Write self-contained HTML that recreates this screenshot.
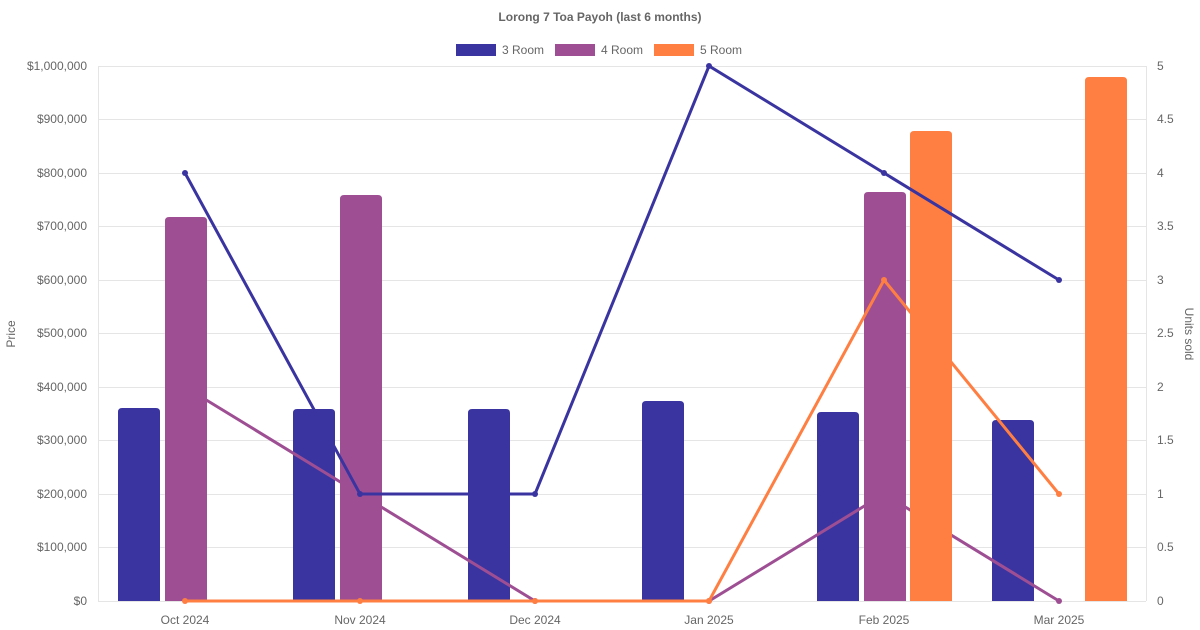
<!DOCTYPE html>
<html><head><meta charset="utf-8"><style>
html,body{margin:0;padding:0;background:#fff;}
svg{display:block;font-family:"Liberation Sans",Arial,sans-serif;}
</style></head><body>
<svg width="1200" height="630" viewBox="0 0 1200 630" xmlns="http://www.w3.org/2000/svg">
<text x="600" y="21" text-anchor="middle" font-size="12" font-weight="bold" fill="#666">Lorong 7 Toa Payoh (last 6 months)</text>
<rect x="456" y="44" width="40" height="12" fill="#3a34a0"/>
<text x="502" y="54" font-size="12" fill="#666">3 Room</text>
<rect x="555" y="44" width="40" height="12" fill="#9e4f94"/>
<text x="601" y="54" font-size="12" fill="#666">4 Room</text>
<rect x="654" y="44" width="40" height="12" fill="#ff7f42"/>
<text x="700" y="54" font-size="12" fill="#666">5 Room</text>
<g stroke="#e5e5e5" stroke-width="1">
<line x1="98" y1="66.5" x2="1146" y2="66.5"/>
<line x1="98" y1="119.5" x2="1146" y2="119.5"/>
<line x1="98" y1="173.5" x2="1146" y2="173.5"/>
<line x1="98" y1="226.5" x2="1146" y2="226.5"/>
<line x1="98" y1="280.5" x2="1146" y2="280.5"/>
<line x1="98" y1="333.5" x2="1146" y2="333.5"/>
<line x1="98" y1="387.5" x2="1146" y2="387.5"/>
<line x1="98" y1="440.5" x2="1146" y2="440.5"/>
<line x1="98" y1="494.5" x2="1146" y2="494.5"/>
<line x1="98" y1="547.5" x2="1146" y2="547.5"/>
<line x1="98" y1="601.5" x2="1146" y2="601.5"/>
<line x1="98.5" y1="66" x2="98.5" y2="601"/>
<line x1="1146.5" y1="66" x2="1146.5" y2="601"/>
</g>
<g font-size="12" fill="#666" text-anchor="end">
<text x="87" y="70">$1,000,000</text>
<text x="87" y="123">$900,000</text>
<text x="87" y="177">$800,000</text>
<text x="87" y="230">$700,000</text>
<text x="87" y="284">$600,000</text>
<text x="87" y="337">$500,000</text>
<text x="87" y="391">$400,000</text>
<text x="87" y="444">$300,000</text>
<text x="87" y="498">$200,000</text>
<text x="87" y="551">$100,000</text>
<text x="87" y="605">$0</text>
</g>
<g font-size="12" fill="#666" text-anchor="start">
<text x="1157" y="70">5</text>
<text x="1157" y="123">4.5</text>
<text x="1157" y="177">4</text>
<text x="1157" y="230">3.5</text>
<text x="1157" y="284">3</text>
<text x="1157" y="337">2.5</text>
<text x="1157" y="391">2</text>
<text x="1157" y="444">1.5</text>
<text x="1157" y="498">1</text>
<text x="1157" y="551">0.5</text>
<text x="1157" y="605">0</text>
</g>
<g font-size="12" fill="#666" text-anchor="middle">
<text x="185" y="624">Oct 2024</text>
<text x="360" y="624">Nov 2024</text>
<text x="535" y="624">Dec 2024</text>
<text x="709" y="624">Jan 2025</text>
<text x="884" y="624">Feb 2025</text>
<text x="1059" y="624">Mar 2025</text>
</g>
<text transform="translate(15,334) rotate(-90)" font-size="12" fill="#666" text-anchor="middle">Price</text>
<text transform="translate(1185,334) rotate(90)" font-size="12" fill="#666" text-anchor="middle">Units sold</text>
<!-- 3 room bars -->
<g fill="#3a34a0">
<path d="M118,601 V412 q0,-4 4,-4 h34 q4,0 4,4 V601Z"/>
<path d="M293,601 V413 q0,-4 4,-4 h34 q4,0 4,4 V601Z"/>
<path d="M468,601 V413 q0,-4 4,-4 h34 q4,0 4,4 V601Z"/>
<path d="M642,601 V405 q0,-4 4,-4 h34 q4,0 4,4 V601Z"/>
<path d="M817,601 V416 q0,-4 4,-4 h34 q4,0 4,4 V601Z"/>
<path d="M992,601 V424 q0,-4 4,-4 h34 q4,0 4,4 V601Z"/>
</g>
<!-- 4 room line -->
<polyline points="185,387 360,494 535,601 709,601 884,494 1059,601" fill="none" stroke="#9e4f94" stroke-width="3"/>
<g fill="#9e4f94"><circle cx="185" cy="387" r="3"/><circle cx="360" cy="494" r="3"/><circle cx="535" cy="601" r="3"/><circle cx="709" cy="601" r="3"/><circle cx="884" cy="494" r="3"/><circle cx="1059" cy="601" r="3"/></g>
<!-- 4 room bars -->
<g fill="#9e4f94">
<path d="M165,601 V221 q0,-4 4,-4 h34 q4,0 4,4 V601Z"/>
<path d="M340,601 V199 q0,-4 4,-4 h34 q4,0 4,4 V601Z"/>
<path d="M864,601 V196 q0,-4 4,-4 h34 q4,0 4,4 V601Z"/>
</g>
<!-- 5 room line -->
<polyline points="185,601 360,601 535,601 709,601 884,280 1059,494" fill="none" stroke="#ff7f42" stroke-width="3"/>
<g fill="#ff7f42"><circle cx="185" cy="601" r="3"/><circle cx="360" cy="601" r="3"/><circle cx="535" cy="601" r="3"/><circle cx="709" cy="601" r="3"/><circle cx="884" cy="280" r="3"/><circle cx="1059" cy="494" r="3"/></g>
<!-- 5 room bars -->
<g fill="#ff7f42">
<path d="M910,601 V135 q0,-4 4,-4 h34 q4,0 4,4 V601Z"/>
<path d="M1085,601 V81 q0,-4 4,-4 h34 q4,0 4,4 V601Z"/>
</g>
<!-- 3 room line -->
<polyline points="185,173 360,494 535,494 709,66 884,173 1059,280" fill="none" stroke="#3a34a0" stroke-width="3"/>
<g fill="#3a34a0"><circle cx="185" cy="173" r="3"/><circle cx="360" cy="494" r="3"/><circle cx="535" cy="494" r="3"/><circle cx="709" cy="66" r="3"/><circle cx="884" cy="173" r="3"/><circle cx="1059" cy="280" r="3"/></g>
</svg>
</body></html>
